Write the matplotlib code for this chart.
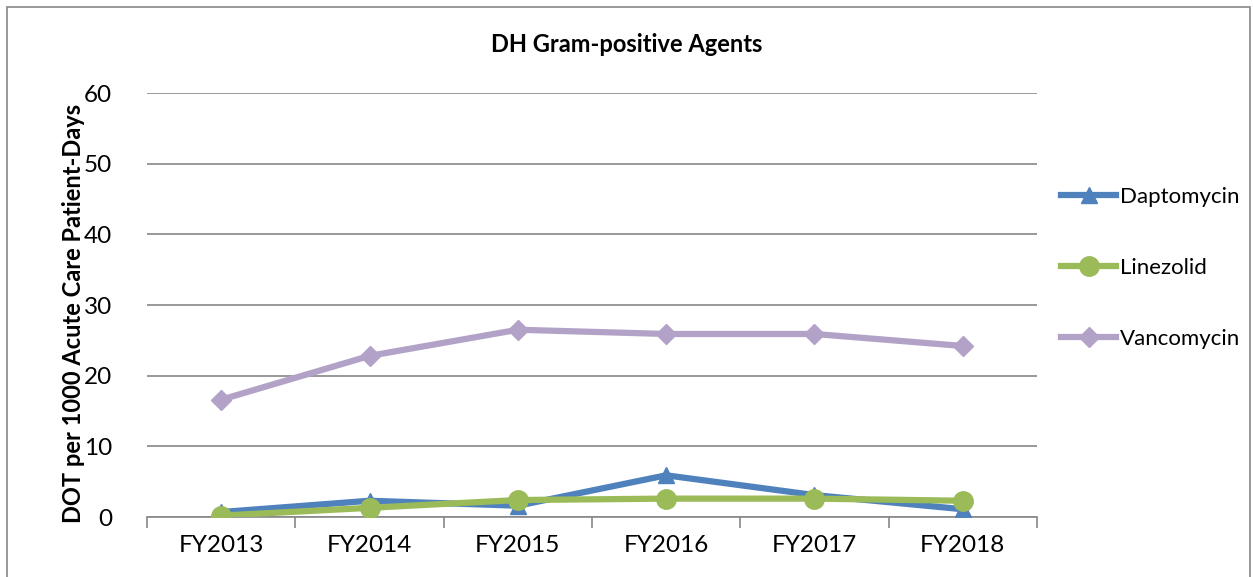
import matplotlib
matplotlib.use("Agg")
import matplotlib.pyplot as plt
from matplotlib.patches import Rectangle
import numpy as np

plt.rcParams['font.family'] = ['Lato', 'DejaVu Sans']

categories = ["FY2013", "FY2014", "FY2015", "FY2016", "FY2017", "FY2018"]
daptomycin = [0.7, 2.3, 1.6, 5.9, 3.1, 1.1]
linezolid = [0.2, 1.3, 2.4, 2.6, 2.6, 2.3]
vancomycin = [16.6, 22.8, 26.5, 25.9, 25.9, 24.2]

fig = plt.figure(figsize=(12.53, 5.77), dpi=100)
ax = fig.add_axes([147/1253, 1-517/577, 890/1253, 424/577])

x = np.arange(len(categories))
ax.plot(x, daptomycin, color='#4F81BD', lw=4.5, marker='^', ms=12, label='Daptomycin', zorder=3)
ax.plot(x, linezolid, color='#9BBB59', lw=4.5, marker='o', ms=14, label='Linezolid', zorder=4)
ax.plot(x, vancomycin, color='#B3A2C7', lw=4.5, marker='D', ms=10, label='Vancomycin', zorder=3)

ax.set_xlim(-0.5, len(categories) - 0.5)
ax.set_ylim(0, 60)
ax.set_yticks(range(0, 61, 10))
ax.set_xticks(x)
ax.set_xticklabels(categories)
ax.set_xticks(np.arange(-0.5, len(categories), 1), minor=True)
ax.tick_params(axis='x', which='major', length=0, labelsize=17.5, pad=13)
ax.tick_params(axis='x', which='minor', length=8, width=1.2, color='#888888', direction='out')
ax.tick_params(axis='y', length=0, labelsize=17.5, pad=25)
ax.grid(axis='y', color='#888888', lw=1.2)
ax.set_axisbelow(True)
for s in ['left', 'right', 'top']:
    ax.spines[s].set_visible(False)
ax.spines['bottom'].set_color('#888888')
ax.spines['bottom'].set_linewidth(1.2)

ax.set_ylabel('DOT per 1000 Acute Care Patient-Days', fontsize=17, fontweight='bold')
ax.yaxis.set_label_coords(-0.07, 0.48)
fig.text(0.5, 1-45/577, 'DH Gram-positive Agents', ha='center', va='center', fontsize=17, fontweight='bold')

leg = fig.legend(loc='center left', bbox_to_anchor=(1052/1253, 1-268/577), frameon=False,
                 fontsize=16, labelspacing=2.3, handlelength=2.5, handletextpad=0.15, borderaxespad=0)

fig.patches.append(Rectangle((7/1253, -0.01), 1243/1253, 1 - 7/577 + 0.01, transform=fig.transFigure,
                             fill=False, edgecolor='#888888', lw=1.2))

fig.savefig('out.png', dpi=100)
